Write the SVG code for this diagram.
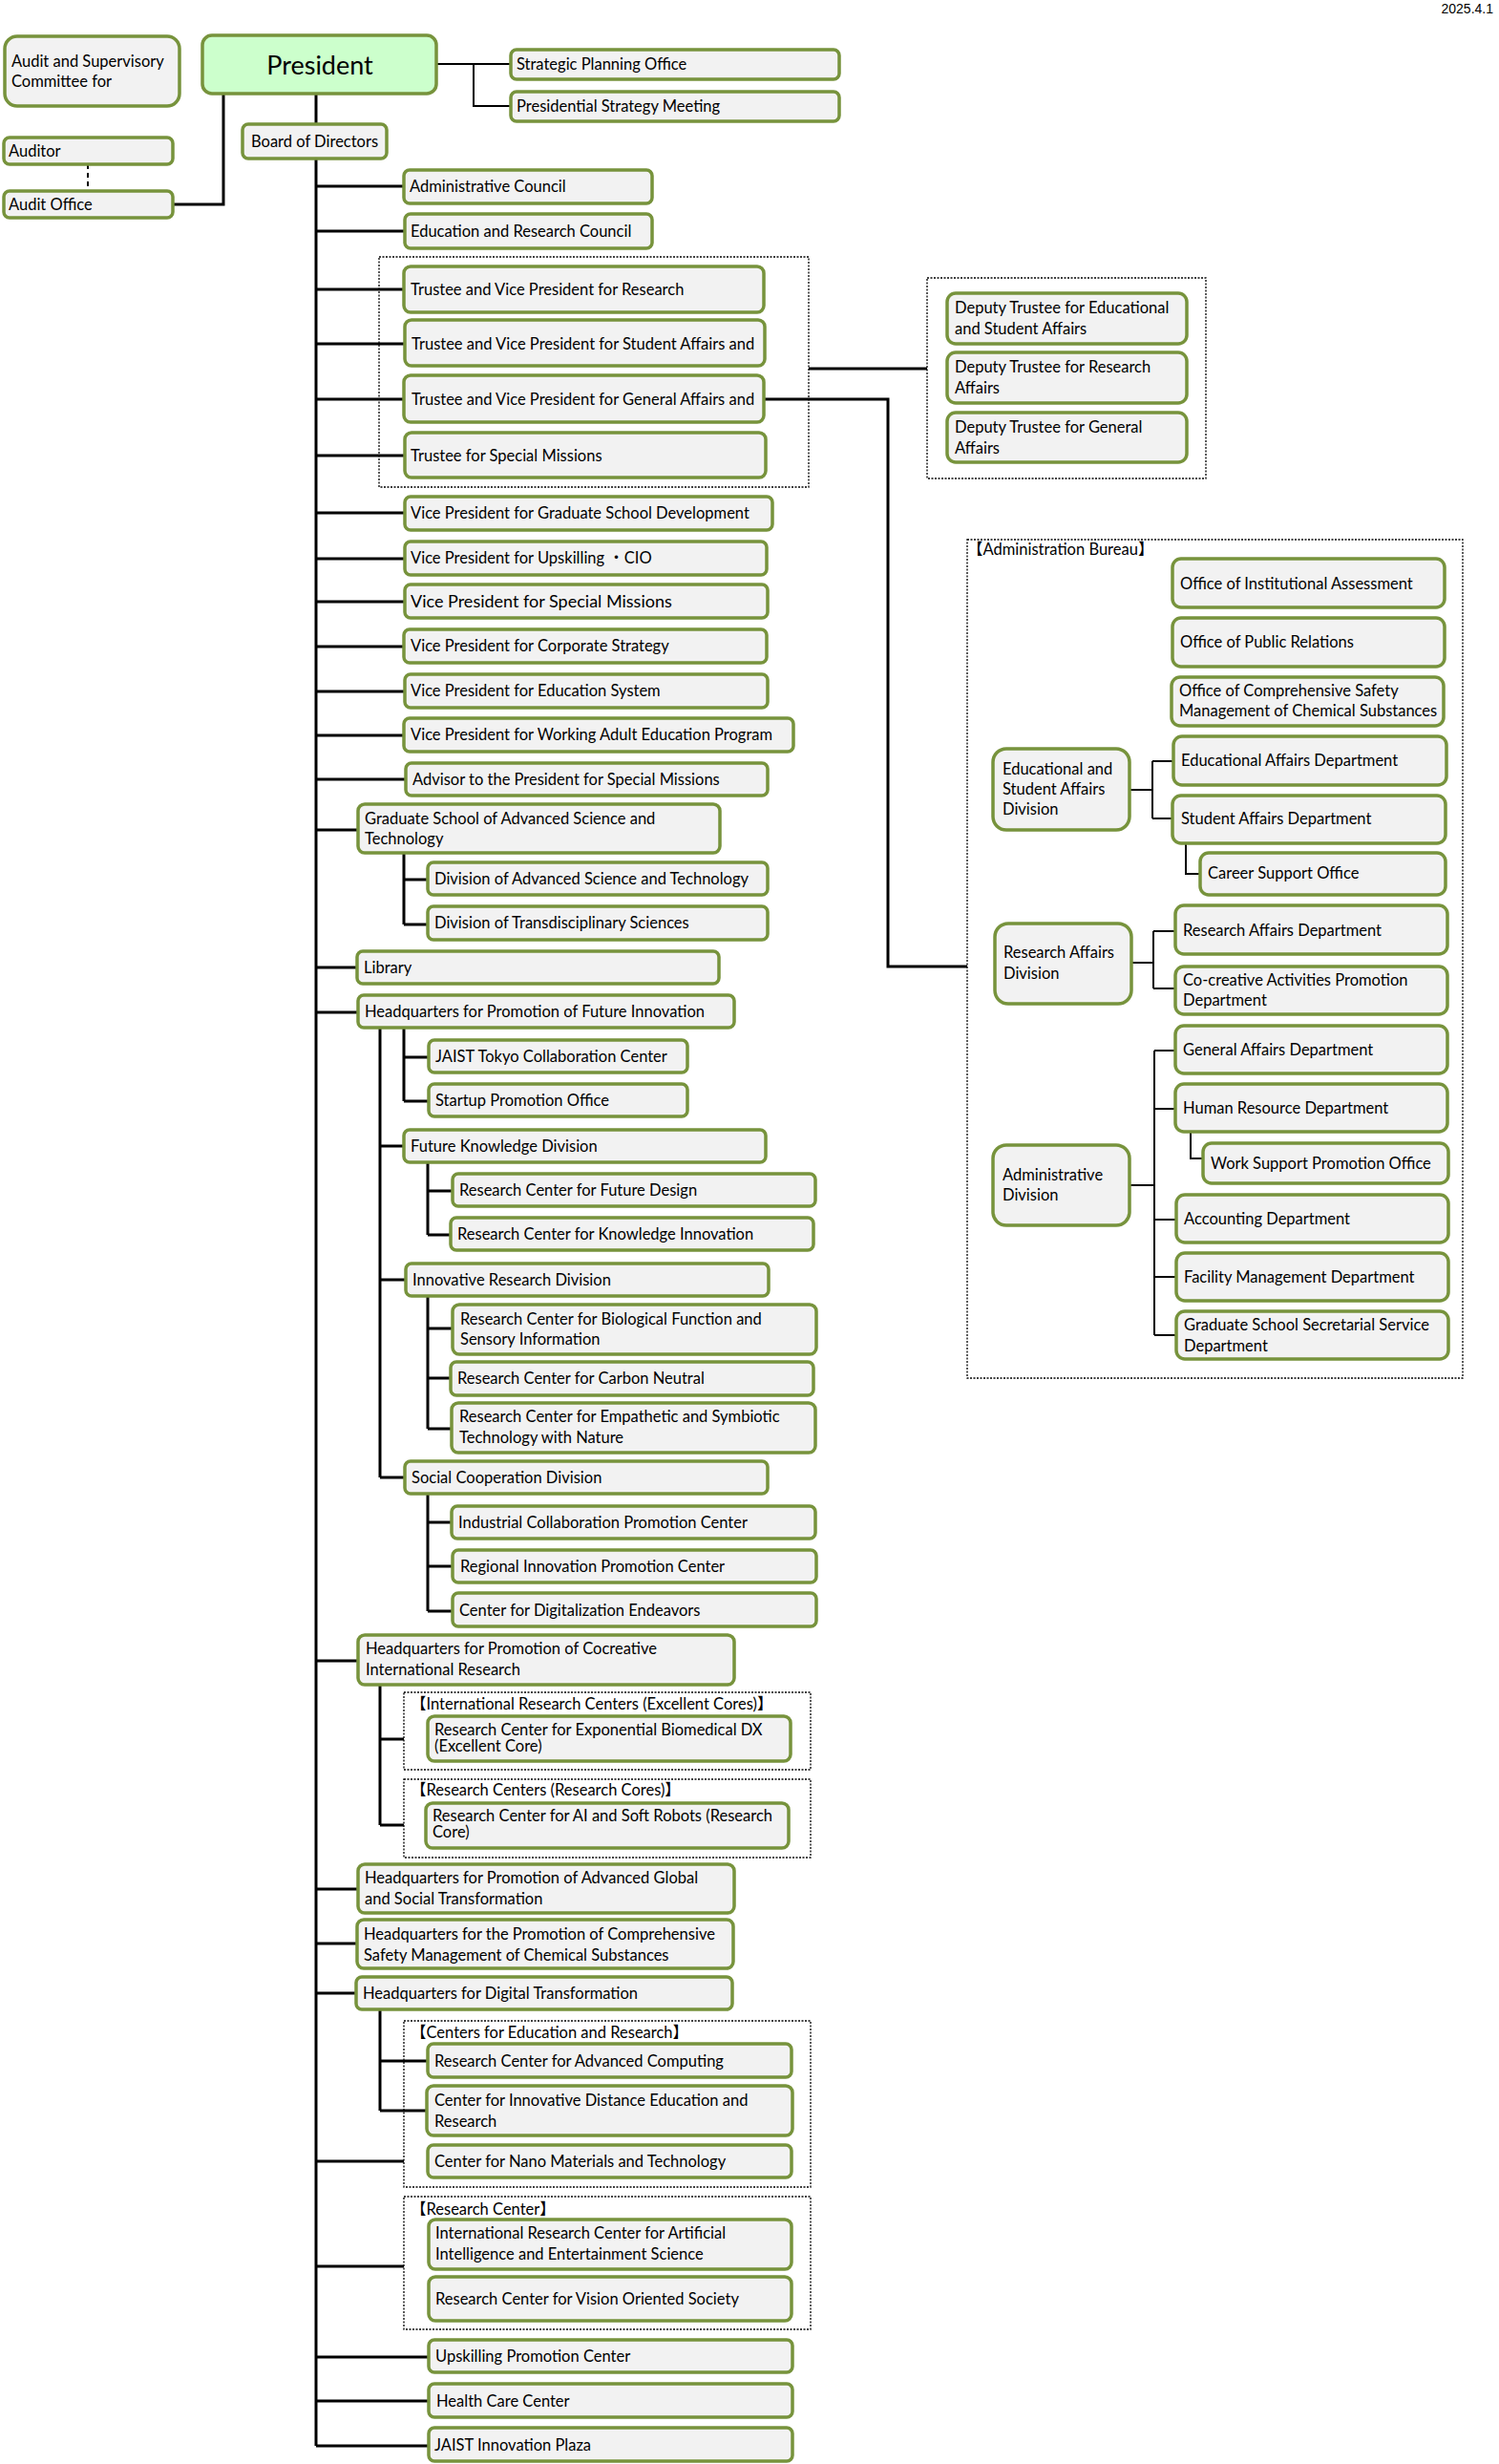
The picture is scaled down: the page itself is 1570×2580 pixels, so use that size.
<svg xmlns="http://www.w3.org/2000/svg" width="1570" height="2580" viewBox="0 0 1570 2580">
<style>
.b{fill:#f2f2f2;stroke:#77933c;stroke-width:3.5}
.p{fill:#ccffcc;stroke:#77933c;stroke-width:3.5}
.t{font-family:Lato,"Noto Sans","Noto Sans CJK JP",sans-serif;font-size:16.5px;fill:#000}
.lg{font-size:18px}
.c{stroke:#000;stroke-width:3;fill:none}
.c2{stroke:#000;stroke-width:2;fill:none}
.d{fill:none;stroke:#000;stroke-width:1.3;stroke-dasharray:2 1.5}
</style>
<rect width="1570" height="2580" fill="#fff"/>
<text x="1564" y="14" text-anchor="end" style="font-family:'Liberation Sans',Arial,sans-serif;font-size:14px">2025.4.1</text>

<g id="connectors">
<path class="c2" d="M457 67H535M496 67V111H535"/>
<path class="c" d="M234 98V214H181"/>
<path d="M92 172V200" stroke="#000" stroke-width="2" stroke-dasharray="5 4" fill="none"/>
<path class="c" d="M331 98V130M331 166V2561"/>
<path class="c" d="M331 195H423M331 242H424M331 303H423M331 360H424M331 418H423M331 477H424M331 537H424M331 585H424M331 630H424M331 677H423M331 724H424M331 770H423M331 816H425M331 869H375M331 1013H374M331 1060H375M331 1739H375M331 1978H375M331 2035H374M331 2087H373M331 2263H423M331 2373H423M331 2468H449M331 2514H449M331 2561H449"/>
<path class="c" d="M423 893V968M423 921H448M423 968H448"/>
<path class="c" d="M398 1076V1547M398 1200H423M398 1340H425M398 1547H424"/>
<path class="c" d="M423 1076V1153M423 1107H449M423 1153H449"/>
<path class="c" d="M448 1217V1293M448 1247H474M448 1293H472"/>
<path class="c" d="M448 1357V1496M448 1391H474M448 1443H472M448 1496H473"/>
<path class="c" d="M448 1564V1687M448 1594H473M448 1640H474M448 1687H474"/>
<path class="c" d="M398 1764V1911M398 1821H423M398 1911H423"/>
<path class="c" d="M398 2104V2210M398 2158H448M398 2210H447"/>
<path class="c" d="M847 386H971"/>
<path class="c" d="M800 418H930V1012H1013"/>
<path class="c2" d="M1183 827H1207M1207 797V857M1207 797H1229M1207 857H1228"/>
<path class="c2" d="M1242 883V915H1257"/>
<path class="c2" d="M1185 1008H1208M1208 975V1035M1208 975H1231M1208 1035H1231"/>
<path class="c2" d="M1183 1241H1209M1209 1100V1398M1209 1100H1231M1209 1161H1231M1209 1277H1232M1209 1337H1232M1209 1398H1232"/>
<path class="c2" d="M1247 1185V1213H1260"/>
</g>

<g id="frames">
<rect class="d" x="397" y="269" width="450" height="241"/>
<rect class="d" x="971" y="291" width="292" height="210"/>
<rect class="d" x="1013" y="565" width="519" height="878"/>
<rect class="d" x="423" y="1772" width="426" height="81"/>
<rect class="d" x="423" y="1863" width="426" height="82"/>
<rect class="d" x="423" y="2116" width="426" height="174"/>
<rect class="d" x="423" y="2300" width="426" height="139"/>
<text class="t" x="1013" y="581">【Administration Bureau】</text>
<text class="t" x="430" y="1790">【International Research Centers (Excellent Cores)】</text>
<text class="t" x="430" y="1880">【Research Centers (Research Cores)】</text>
<text class="t" x="430" y="2134">【Centers for Education and Research】</text>
<text class="t" x="430" y="2319">【Research Center】</text>
</g>

<g id="n-audit-committee"><rect class="b" x="5" y="38" width="183" height="73" rx="13"/><text class="t"><tspan x="12" y="70">Audit and Supervisory</tspan><tspan x="12" y="91">Committee for</tspan></text></g>
<g id="n-president"><rect class="p" x="212" y="37" width="245" height="61" rx="10"/><text class="t" x="335" y="78" text-anchor="middle" style="font-size:27px">President</text></g>
<g id="n-strategic"><rect class="b" x="535" y="52" width="344" height="31" rx="6"/><text class="t" x="541" y="73">Strategic Planning Office</text></g>
<g id="n-pres-meeting"><rect class="b" x="535" y="96" width="344" height="31" rx="6"/><text class="t" x="541" y="117">Presidential Strategy Meeting</text></g>
<g id="n-auditor"><rect class="b" x="4" y="144" width="177" height="28" rx="6"/><text class="t" x="9" y="164">Auditor</text></g>
<g id="n-audit-office"><rect class="b" x="4" y="200" width="177" height="28" rx="6"/><text class="t" x="9" y="220">Audit Office</text></g>
<g id="n-board"><rect class="b" x="254" y="130" width="151" height="36" rx="6"/><text class="t" x="263" y="154">Board of Directors</text></g>
<g id="n-admin-council"><rect class="b" x="423" y="178" width="260" height="35" rx="6"/><text class="t" x="429" y="201">Administrative Council</text></g>
<g id="n-edu-council"><rect class="b" x="424" y="224" width="259" height="36" rx="6"/><text class="t" x="430" y="248">Education and Research Council</text></g>
<g id="n-tr-research"><rect class="b" x="423" y="279" width="377" height="48" rx="7"/><text class="t" x="430" y="309">Trustee and Vice President for Research</text></g>
<g id="n-tr-student"><rect class="b" x="424" y="335" width="377" height="48" rx="7"/><text class="t" x="431" y="366">Trustee and Vice President for Student Affairs and</text></g>
<g id="n-tr-general"><rect class="b" x="423" y="393" width="377" height="49" rx="7"/><text class="t" x="431" y="424">Trustee and Vice President for General Affairs and</text></g>
<g id="n-tr-special"><rect class="b" x="424" y="453" width="378" height="47" rx="7"/><text class="t" x="430" y="483">Trustee for Special Missions</text></g>
<g id="n-dep-edu"><rect class="b" x="992" y="307" width="251" height="53" rx="9"/><text class="t"><tspan x="1000" y="328">Deputy Trustee for Educational</tspan><tspan x="1000" y="350">and Student Affairs</tspan></text></g>
<g id="n-dep-res"><rect class="b" x="992" y="369" width="251" height="53" rx="9"/><text class="t"><tspan x="1000" y="390">Deputy Trustee for Research</tspan><tspan x="1000" y="412">Affairs</tspan></text></g>
<g id="n-dep-gen"><rect class="b" x="992" y="432" width="251" height="52" rx="9"/><text class="t"><tspan x="1000" y="453">Deputy Trustee for General</tspan><tspan x="1000" y="475">Affairs</tspan></text></g>

<g id="n-vp-grad"><rect class="b" x="424" y="520" width="385" height="35" rx="6"/><text class="t" x="430" y="543">Vice President for Graduate School Development</text></g>
<g id="n-vp-upskill"><rect class="b" x="424" y="567" width="379" height="35" rx="6"/><text class="t" x="430" y="590">Vice President for Upskilling ・CIO</text></g>
<g id="n-vp-special"><rect class="b" x="424" y="612" width="380" height="35" rx="6"/><text class="t lg" x="430" y="636">Vice President for Special Missions</text></g>
<g id="n-vp-corp"><rect class="b" x="423" y="659" width="380" height="35" rx="6"/><text class="t" x="430" y="682">Vice President for Corporate Strategy</text></g>
<g id="n-vp-edu"><rect class="b" x="424" y="706" width="380" height="35" rx="6"/><text class="t" x="430" y="729">Vice President for Education System</text></g>
<g id="n-vp-adult"><rect class="b" x="423" y="752" width="408" height="35" rx="6"/><text class="t" x="430" y="775">Vice President for Working Adult Education Program</text></g>
<g id="n-advisor"><rect class="b" x="425" y="799" width="379" height="34" rx="6"/><text class="t" x="432" y="822">Advisor to the President for Special Missions</text></g>
<g id="n-grad-school"><rect class="b" x="375" y="842" width="379" height="51" rx="7"/><text class="t"><tspan x="382" y="863">Graduate School of Advanced Science and</tspan><tspan x="382" y="884">Technology</tspan></text></g>
<g id="n-div-adv"><rect class="b" x="448" y="903" width="356" height="34" rx="6"/><text class="t" x="455" y="926">Division of Advanced Science and Technology</text></g>
<g id="n-div-trans"><rect class="b" x="448" y="949" width="356" height="35" rx="6"/><text class="t" x="455" y="972">Division of Transdisciplinary Sciences</text></g>
<g id="n-library"><rect class="b" x="374" y="996" width="379" height="34" rx="6"/><text class="t" x="381" y="1019">Library</text></g>
<g id="n-hq-future"><rect class="b" x="375" y="1042" width="394" height="34" rx="6"/><text class="t" x="382" y="1065">Headquarters for Promotion of Future Innovation</text></g>
<g id="n-tokyo"><rect class="b" x="449" y="1089" width="271" height="34" rx="6"/><text class="t" x="456" y="1112">JAIST Tokyo Collaboration Center</text></g>
<g id="n-startup"><rect class="b" x="449" y="1135" width="271" height="34" rx="6"/><text class="t" x="456" y="1158">Startup Promotion Office</text></g>
<g id="n-future-know"><rect class="b" x="423" y="1183" width="379" height="34" rx="6"/><text class="t" x="430" y="1206">Future Knowledge Division</text></g>
<g id="n-rc-design"><rect class="b" x="474" y="1229" width="380" height="34" rx="6"/><text class="t" x="481" y="1252">Research Center for Future Design</text></g>
<g id="n-rc-know"><rect class="b" x="472" y="1275" width="380" height="34" rx="6"/><text class="t" x="479" y="1298">Research Center for Knowledge Innovation</text></g>
<g id="n-innov-div"><rect class="b" x="425" y="1323" width="380" height="34" rx="6"/><text class="t" x="432" y="1346">Innovative Research Division</text></g>
<g id="n-rc-bio"><rect class="b" x="474" y="1366" width="381" height="52" rx="7"/><text class="t"><tspan x="482" y="1387">Research Center for Biological Function and</tspan><tspan x="482" y="1408">Sensory Information</tspan></text></g>
<g id="n-rc-carbon"><rect class="b" x="472" y="1426" width="380" height="35" rx="6"/><text class="t" x="479" y="1449">Research Center for Carbon Neutral</text></g>
<g id="n-rc-emp"><rect class="b" x="473" y="1469" width="381" height="52" rx="7"/><text class="t"><tspan x="481" y="1489">Research Center for Empathetic and Symbiotic</tspan><tspan x="481" y="1511">Technology with Nature</tspan></text></g>
<g id="n-social"><rect class="b" x="424" y="1530" width="380" height="34" rx="6"/><text class="t" x="431" y="1553">Social Cooperation Division</text></g>
<g id="n-industrial"><rect class="b" x="473" y="1577" width="381" height="34" rx="6"/><text class="t" x="480" y="1600">Industrial Collaboration Promotion Center</text></g>
<g id="n-regional"><rect class="b" x="474" y="1623" width="381" height="34" rx="6"/><text class="t" x="482" y="1646">Regional Innovation Promotion Center</text></g>
<g id="n-digital-end"><rect class="b" x="474" y="1668" width="381" height="35" rx="6"/><text class="t" x="481" y="1692">Center for Digitalization Endeavors</text></g>
<g id="n-hq-cocreative"><rect class="b" x="375" y="1712" width="394" height="52" rx="7"/><text class="t"><tspan x="383" y="1732">Headquarters for Promotion of Cocreative</tspan><tspan x="383" y="1754">International Research</tspan></text></g>
<g id="n-rc-biomed"><rect class="b" x="448" y="1797" width="380" height="47" rx="7"/><text class="t"><tspan x="455" y="1817">Research Center for Exponential Biomedical DX</tspan><tspan x="455" y="1834">(Excellent Core)</tspan></text></g>
<g id="n-rc-ai-soft"><rect class="b" x="446" y="1888" width="380" height="47" rx="7"/><text class="t"><tspan x="453" y="1907">Research Center for AI and Soft Robots (Research</tspan><tspan x="453" y="1924">Core)</tspan></text></g>
<g id="n-hq-global"><rect class="b" x="375" y="1952" width="394" height="51" rx="7"/><text class="t"><tspan x="382" y="1972">Headquarters for Promotion of Advanced Global</tspan><tspan x="382" y="1994">and Social Transformation</tspan></text></g>
<g id="n-hq-safety"><rect class="b" x="374" y="2010" width="394" height="51" rx="7"/><text class="t"><tspan x="381" y="2031">Headquarters for the Promotion of Comprehensive</tspan><tspan x="381" y="2053">Safety Management of Chemical Substances</tspan></text></g>
<g id="n-hq-dx"><rect class="b" x="373" y="2070" width="394" height="34" rx="6"/><text class="t" x="380" y="2093">Headquarters for Digital Transformation</text></g>
<g id="n-rc-computing"><rect class="b" x="448" y="2140" width="381" height="35" rx="6"/><text class="t" x="455" y="2164">Research Center for Advanced Computing</text></g>
<g id="n-distance"><rect class="b" x="447" y="2184" width="383" height="52" rx="7"/><text class="t"><tspan x="455" y="2205">Center for Innovative Distance Education and</tspan><tspan x="455" y="2227">Research</tspan></text></g>
<g id="n-nano"><rect class="b" x="448" y="2246" width="381" height="34" rx="6"/><text class="t" x="455" y="2269">Center for Nano Materials and Technology</text></g>
<g id="n-ai-ent"><rect class="b" x="449" y="2324" width="380" height="52" rx="7"/><text class="t"><tspan x="456" y="2344">International Research Center for Artificial</tspan><tspan x="456" y="2366">Intelligence and Entertainment Science</tspan></text></g>
<g id="n-vision"><rect class="b" x="449" y="2384" width="380" height="46" rx="7"/><text class="t" x="456" y="2413">Research Center for Vision Oriented Society</text></g>
<g id="n-upskill-center"><rect class="b" x="449" y="2450" width="381" height="34" rx="6"/><text class="t" x="456" y="2473">Upskilling Promotion Center</text></g>
<g id="n-health"><rect class="b" x="449" y="2496" width="381" height="35" rx="6"/><text class="t" x="457" y="2520">Health Care Center</text></g>
<g id="n-plaza"><rect class="b" x="449" y="2542" width="381" height="35" rx="6"/><text class="t" x="455" y="2566">JAIST Innovation Plaza</text></g>

<g id="n-oia"><rect class="b" x="1228" y="585" width="285" height="51" rx="9"/><text class="t" x="1236" y="617">Office of Institutional Assessment</text></g>
<g id="n-opr"><rect class="b" x="1228" y="647" width="285" height="51" rx="9"/><text class="t" x="1236" y="678">Office of Public Relations</text></g>
<g id="n-ocs"><rect class="b" x="1227" y="709" width="285" height="51" rx="9"/><text class="t"><tspan x="1235" y="729">Office of Comprehensive Safety</tspan><tspan x="1235" y="750">Management of Chemical Substances</tspan></text></g>
<g id="n-esad"><rect class="b" x="1040" y="784" width="143" height="85" rx="14"/><text class="t"><tspan x="1050" y="811">Educational and</tspan><tspan x="1050" y="832">Student Affairs</tspan><tspan x="1050" y="853">Division</tspan></text></g>
<g id="n-ead"><rect class="b" x="1229" y="771" width="286" height="51" rx="9"/><text class="t" x="1237" y="802">Educational Affairs Department</text></g>
<g id="n-sad"><rect class="b" x="1228" y="833" width="286" height="50" rx="9"/><text class="t" x="1237" y="863">Student Affairs Department</text></g>
<g id="n-career"><rect class="b" x="1257" y="893" width="257" height="44" rx="9"/><text class="t" x="1265" y="920">Career Support Office</text></g>
<g id="n-rad-div"><rect class="b" x="1042" y="967" width="143" height="84" rx="14"/><text class="t"><tspan x="1051" y="1003">Research Affairs</tspan><tspan x="1051" y="1025">Division</tspan></text></g>
<g id="n-rad"><rect class="b" x="1231" y="948" width="285" height="51" rx="9"/><text class="t" x="1239" y="980">Research Affairs Department</text></g>
<g id="n-cocreative-dept"><rect class="b" x="1231" y="1012" width="285" height="50" rx="9"/><text class="t"><tspan x="1239" y="1032">Co-creative Activities Promotion</tspan><tspan x="1239" y="1053">Department</tspan></text></g>
<g id="n-gad"><rect class="b" x="1231" y="1074" width="285" height="50" rx="9"/><text class="t" x="1239" y="1105">General Affairs Department</text></g>
<g id="n-hrd"><rect class="b" x="1231" y="1135" width="285" height="50" rx="9"/><text class="t" x="1239" y="1166">Human Resource Department</text></g>
<g id="n-work"><rect class="b" x="1260" y="1197" width="257" height="42" rx="9"/><text class="t" x="1268" y="1224">Work Support Promotion Office</text></g>
<g id="n-admin-div"><rect class="b" x="1040" y="1199" width="143" height="84" rx="14"/><text class="t"><tspan x="1050" y="1236">Administrative</tspan><tspan x="1050" y="1257">Division</tspan></text></g>
<g id="n-acc"><rect class="b" x="1232" y="1251" width="285" height="50" rx="9"/><text class="t" x="1240" y="1282">Accounting Department</text></g>
<g id="n-fac"><rect class="b" x="1232" y="1312" width="285" height="50" rx="9"/><text class="t" x="1240" y="1343">Facility Management Department</text></g>
<g id="n-gss"><rect class="b" x="1232" y="1373" width="285" height="50" rx="9"/><text class="t"><tspan x="1240" y="1393">Graduate School Secretarial Service</tspan><tspan x="1240" y="1415">Department</tspan></text></g>
</svg>
